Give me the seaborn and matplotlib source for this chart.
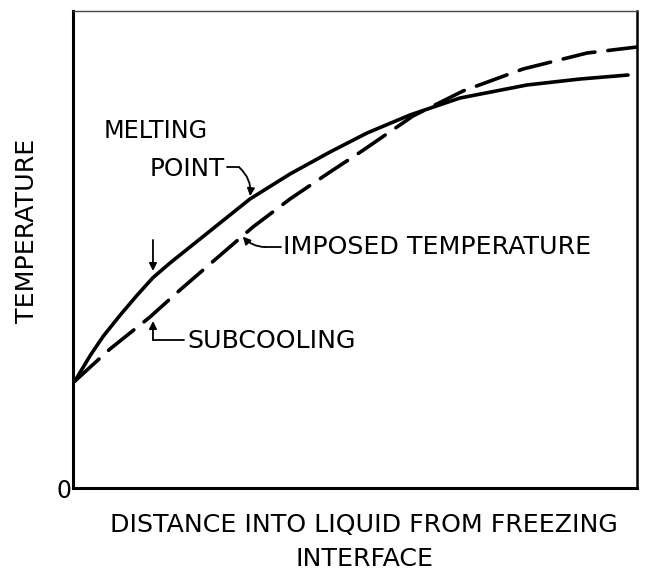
import numpy as np
import pandas as pd
import matplotlib
matplotlib.use("Agg")
import matplotlib.pyplot as plt
import seaborn as sns

# ---- data (axis scaled 0..10) ----
melt_x = [0.035, 0.301, 0.532, 0.833, 1.135, 1.418, 1.720, 2.074, 2.252, 3.138,
          3.848, 4.557, 5.213, 5.975, 6.862, 8.050, 8.989, 9.840]
melt_y = [2.243, 2.770, 3.175, 3.620, 4.040, 4.410, 4.717, 5.052, 5.220, 6.059,
          6.583, 7.044, 7.442, 7.820, 8.176, 8.449, 8.574, 8.658]
imp_x = [0.035, 0.656, 1.365, 1.897, 2.553, 3.191, 3.848, 4.557, 5.124, 6.028,
         6.915, 7.979, 9.113, 10.0]
imp_y = [2.243, 2.914, 3.585, 4.151, 4.822, 5.472, 6.059, 6.625, 7.065, 7.799,
         8.323, 8.784, 9.119, 9.245]
ytick_vals = [0]
ytick_labels = ["0"]
xlabel = "DISTANCE INTO LIQUID FROM FREEZING\nINTERFACE"
ylabel = "TEMPERATURE"

melt = pd.DataFrame({"x": melt_x, "y": melt_y})
imp = pd.DataFrame({"x": imp_x, "y": imp_y})

sns.set_theme(style="white")
plt.rcParams["font.family"] = ["DejaVu Sans"]
plt.rcParams["text.color"] = "black"
plt.rcParams["ytick.color"] = "black"

fig = plt.figure(figsize=(6.49, 5.70), dpi=100)
ax = fig.add_axes([73 / 649, 82 / 570, 564 / 649, 477 / 570])

sns.lineplot(data=melt, x="x", y="y", ax=ax, color="black", lw=2.6,
             solid_capstyle="round", solid_joinstyle="round")
sns.lineplot(data=imp, x="x", y="y", ax=ax, color="black", lw=2.6,
             linestyle=(0, (9, 3.6)), dash_capstyle="round",
             dash_joinstyle="round")

ax.set_xlim(0, 10)
ax.set_ylim(0, 10)
ax.set_xticks([])
ax.set_yticks(ytick_vals)
ax.set_yticklabels(ytick_labels, fontsize=17, color="black")
ax.tick_params(axis="y", length=0, pad=1)
ax.set_xlabel("")
ax.set_ylabel("")

for s in ["left", "bottom"]:
    ax.spines[s].set_linewidth(2.2)
    ax.spines[s].set_color("black")
ax.spines["right"].set_linewidth(1.8)
ax.spines["right"].set_color("black")
ax.spines["top"].set_linewidth(1.0)
ax.spines["top"].set_color("#444444")

fs = 18.2
# axis titles
fig.text(27 / 649, 1 - 231 / 570, ylabel, rotation=90, ha="center", va="center",
         fontsize=fs, color="black")
fig.text(364 / 649, 1 - 542 / 570, xlabel, ha="center", va="center",
         fontsize=fs, linespacing=1.55, color="black")

arrow_kw = dict(arrowstyle="-|>", color="black", lw=1.3, mutation_scale=11,
                shrinkA=0, shrinkB=0)

# MELTING POINT
ax.text(1.47, 7.49, "MELTING", ha="center", va="center", fontsize=17.2, color="black")
ax.text(2.70, 6.69, "POINT", ha="right", va="center", fontsize=17.8, color="black")
ax.plot([2.73, 2.95], [6.72, 6.72], color="black", lw=1.3)
ax.annotate("", xy=(3.14, 6.12), xytext=(2.95, 6.72),
            arrowprops=dict(connectionstyle="arc3,rad=-0.25", **arrow_kw))

# IMPOSED TEMPERATURE
ax.text(3.72, 5.05, "IMPOSED TEMPERATURE", ha="left", va="center", fontsize=fs,
        color="black")
ax.plot([3.40, 3.68], [5.05, 5.05], color="black", lw=1.3)
ax.annotate("", xy=(3.01, 5.27), xytext=(3.40, 5.05),
            arrowprops=dict(connectionstyle="arc3,rad=-0.2", **arrow_kw))

# SUBCOOLING arrows
ax.annotate("", xy=(1.418, 4.55), xytext=(1.418, 5.20), arrowprops=arrow_kw)
ax.text(2.02, 3.08, "SUBCOOLING", ha="left", va="center", fontsize=fs, color="black")
ax.plot([1.418, 1.97], [3.10, 3.10], color="black", lw=1.3)
ax.annotate("", xy=(1.418, 3.50), xytext=(1.418, 3.10), arrowprops=arrow_kw)

fig.savefig("out.png", dpi=100)
